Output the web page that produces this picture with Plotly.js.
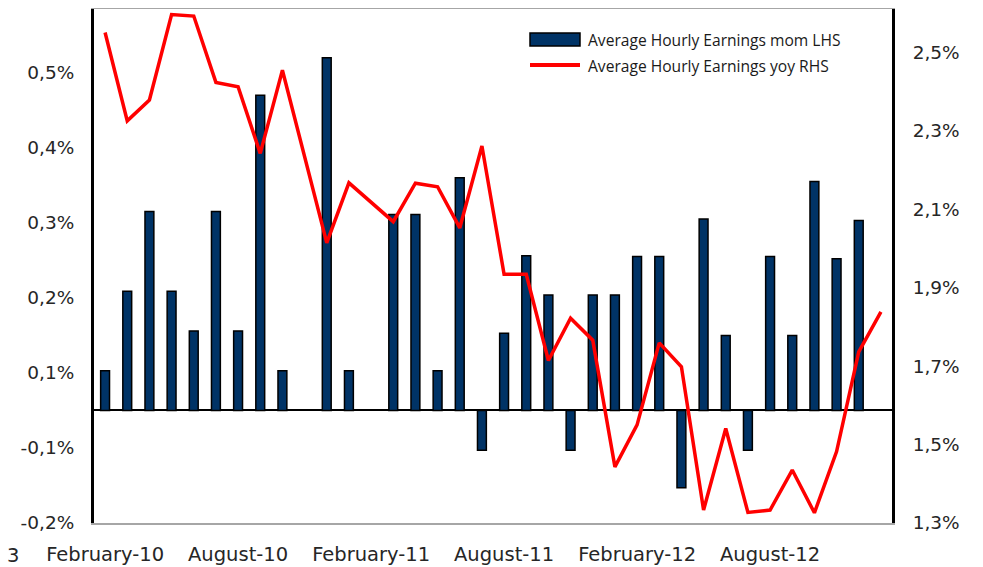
<!DOCTYPE html>
<html>
<head>
<meta charset="utf-8">
<script src="https://cdn.plot.ly/plotly-3.0.1.min.js"></script>
<style>html,body{margin:0;padding:0;background:#fff;}#chart{width:983px;height:567px;}</style>
</head>
<body>
<div id="chart"></div>
<script>
// Months (Feb-2010 .. Jan-2013)
const months = [
  'February-10','March-10','April-10','May-10','June-10','July-10','August-10','September-10','October-10','November-10','December-10','January-11',
  'February-11','March-11','April-11','May-11','June-11','July-11','August-11','September-11','October-11','November-11','December-11','January-12',
  'February-12','March-12','April-12','May-12','June-12','July-12','August-12','September-12','October-12','November-12','December-12','January-13'
];
// Average Hourly Earnings m/m (% , left axis)
const momValues = [
  0.053,0.159,0.265,0.159,0.106,0.265,0.106,0.42,0.053,null,0.47,0.053,
  null,0.261,0.261,0.053,0.31,-0.053,0.103,0.206,0.154,-0.053,0.154,0.154,
  0.205,0.205,-0.103,0.255,0.1,-0.053,0.205,0.1,0.305,0.202,0.253,null
];
// Average Hourly Earnings y/y (% , right axis)
const yoyValues = [
  2.550,2.325,2.378,2.596,2.592,2.423,2.412,2.242,2.454,null,2.014,2.167,
  null,2.068,2.166,2.157,2.052,2.261,1.934,1.934,1.714,1.822,1.766,1.443,
  1.550,1.759,1.698,1.333,1.541,1.327,1.333,1.435,1.326,1.482,1.736,1.838
];
const xTickVals = ['February-10','August-10','February-11','August-11','February-12','August-12'];
const xTickText = ['February-10','August-10','February-11','August-11','February-12','August-12'];
const leftTickVals = [-0.15,-0.05,0.05,0.15,0.25,0.35,0.45];
const leftTickText = ['-0,2%','-0,1%','0,1%','0,2%','0,3%','0,4%','0,5%'];
const rightTickVals = [1.3,1.5,1.7,1.9,2.1,2.3,2.5];
const rightTickText = ['1,3%','1,5%','1,7%','1,9%','2,1%','2,3%','2,5%'];
const seriesNames = ['Average Hourly Earnings mom LHS','Average Hourly Earnings yoy RHS'];

const W = 983, H = 567, ML = 94, MR = 91, MT = 9, MB = 44;
const PW = W - ML - MR, PH = H - MT - MB;
const px = x => (x - ML) / PW;
const py = y => (H - MB - y) / PH;

const tickFont = {family: 'DejaVu Sans', size: 18.5, color: '#262626'};
const xTickFont = {family: 'DejaVu Sans', size: 19.5, color: '#262626'};
const legendFont = {family: 'Open Sans', size: 15.6, color: '#1a1a1a'};

const traces = [
  {
    type: 'bar', x: months, y: momValues, name: seriesNames[0],
    marker: {color: '#003366', line: {color: '#000000', width: 1.5}},
    yaxis: 'y', showlegend: false, hoverinfo: 'x+y'
  },
  {
    type: 'scatter', mode: 'lines', x: months, y: yoyValues, name: seriesNames[1],
    line: {color: '#ff0000', width: 3.5}, connectgaps: true,
    yaxis: 'y2', showlegend: false
  }
];

const layout = {
  width: W, height: H,
  margin: {l: ML, r: MR, t: MT, b: MB, pad: 0},
  paper_bgcolor: '#ffffff', plot_bgcolor: '#ffffff',
  bargap: 0.6,
  showlegend: false,
  xaxis: {
    type: 'category', range: [-0.5, 35.5],
    tickmode: 'array', tickvals: xTickVals, ticktext: xTickText,
    tickfont: xTickFont, ticks: '', ticklabelstandoff: 13,
    showgrid: false, zeroline: false,
    showline: true, linecolor: '#a6a6a6', linewidth: 1.5, mirror: true
  },
  yaxis: {
    range: [-0.15, 0.535], tickmode: 'array', tickvals: leftTickVals, ticktext: leftTickText,
    tickfont: tickFont, ticks: '', ticklabelstandoff: 13,
    showgrid: false, zeroline: true, zerolinecolor: '#000000', zerolinewidth: 2,
    showline: true, linecolor: '#000000', linewidth: 3
  },
  yaxis2: {
    overlaying: 'y', side: 'right',
    range: [1.3, 2.61], tickmode: 'array', tickvals: rightTickVals, ticktext: rightTickText,
    tickfont: tickFont, ticks: '', ticklabelstandoff: 14,
    showgrid: false, zeroline: false,
    showline: true, linecolor: '#000000', linewidth: 3
  },
  shapes: [
    {type: 'rect', xref: 'paper', yref: 'paper', x0: px(530), x1: px(580), y0: py(46), y1: py(33),
     fillcolor: '#003366', line: {color: '#000000', width: 1.5}},
    {type: 'line', xref: 'paper', yref: 'paper', x0: px(530), x1: px(580), y0: py(65), y1: py(65),
     line: {color: '#ff0000', width: 4}}
  ],
  annotations: [
    {xref: 'paper', yref: 'paper', x: px(586), y: py(40), xanchor: 'left', yanchor: 'middle',
     text: seriesNames[0], showarrow: false, font: legendFont},
    {xref: 'paper', yref: 'paper', x: px(586), y: py(66), xanchor: 'left', yanchor: 'middle',
     text: seriesNames[1], showarrow: false, font: legendFont},
    {xref: 'paper', yref: 'paper', x: px(5), y: py(555), xanchor: 'left', yanchor: 'middle',
     text: '3', showarrow: false, font: xTickFont}
  ]
};

Plotly.newPlot('chart', traces, layout, {displayModeBar: false, staticPlot: true});
</script>
</body>
</html>
